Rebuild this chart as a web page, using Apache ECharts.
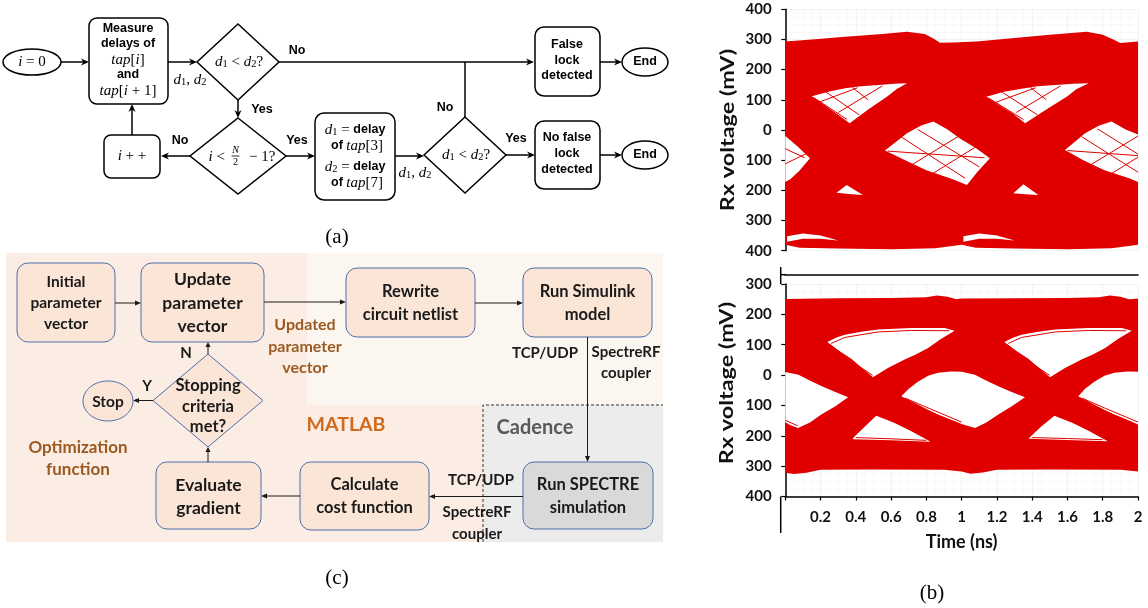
<!DOCTYPE html>
<html><head><meta charset="utf-8">
<script src="https://cdn.jsdelivr.net/npm/echarts@6/dist/echarts.min.js"></script>
<style>html,body{margin:0;padding:0;background:#fff}#c{width:1148px;height:608px}</style>
</head><body><div id="c"></div><script>
// ---------------- data: eye diagram (b), top panel ----------------
const timeTicks = [0.2,0.4,0.6,0.8,1,1.2,1.4,1.6,1.8,2];
const topEnvUpper = [[0,293],[0.15,300],[0.34,309],[0.55,318],[0.69,326],[0.79,318],[0.84,303],[0.877,289],[0.95,290],[1.085,293],[1.3,305],[1.5,316],[1.71,326],[1.8,316],[1.86,300],[1.9,288],[2.0,293]];
const topEnvLower = [[0,-380],[0.08,-390],[0.3,-393],[0.6,-395],[0.85,-392],[1.0,-380],[1.08,-390],[1.3,-393],[1.6,-395],[1.85,-392],[2.0,-380]];
const topUpperEye1 = [[0.15,112],[0.25,128],[0.34,138],[0.43,145],[0.53,149],[0.62,153],[0.69,155],[0.63,135],[0.58,112],[0.47,68],[0.365,22],[0.29,55],[0.22,84]];
const topUpperEye2 = [[1.14,110],[1.24,127],[1.34,137],[1.43,145],[1.53,149],[1.63,153],[1.72,155],[1.65,135],[1.60,112],[1.48,68],[1.36,22],[1.29,55],[1.21,84]];
const topMidEye0 = [[0,-20],[0.07,-55],[0.14,-94],[0.08,-135],[0.03,-162],[0,-172]];
const topMidEye1 = [[0.565,-68],[0.69,-11],[0.77,15],[0.84,28],[0.92,2],[0.99,-28],[1.08,-60],[1.16,-94],[1.09,-138],[1.03,-182],[0.95,-163],[0.8,-133],[0.68,-100]];
const topMidEye2 = [[1.586,-66],[1.70,-11],[1.78,15],[1.85,28],[1.93,2],[2.0,-15],[2.0,-172],[1.95,-160],[1.81,-133],[1.69,-100]];
const topLowEye1 = [[0.29,-208],[0.348,-182],[0.44,-215],[0.36,-212]];
const topLowEye2 = [[1.293,-210],[1.35,-180],[1.435,-215],[1.36,-213]];
const topFloorGap1 = [[0.01,-352],[0.1,-343],[0.2,-350],[0.3,-366],[0.2,-360],[0.1,-360],[0.01,-370]];
const topFloorGap2 = [[1.01,-352],[1.1,-343],[1.2,-350],[1.3,-366],[1.2,-360],[1.1,-360],[1.01,-370]];
const topStrands = [
  [[0.16,108],[0.35,35]], [[0.23,126],[0.42,50]], [[0.19,92],[0.41,140]], [[0.30,58],[0.55,146]], [[0.38,141],[0.47,100]],
  [[0.66,-24],[1.02,-160]], [[0.75,2],[1.10,-122]], [[0.71,-118],[0.99,-18]], [[0.82,-150],[1.08,-56]], [[0.58,-70],[1.13,-92]],
  [[0.0,-62],[0.11,-92]], [[0.0,-112],[0.12,-78]],
  [[1.15,107],[1.35,35]], [[1.23,125],[1.43,50]], [[1.19,91],[1.42,140]], [[1.31,58],[1.56,146]], [[1.39,141],[1.48,100]],
  [[1.68,-22],[2.0,-140]], [[1.77,4],[2.0,-80]], [[1.73,-116],[2.0,-20]], [[1.84,-148],[2.0,-90]], [[1.60,-68],[2.0,-85]]
];
// ---------------- data: eye diagram (b), bottom panel ----------------
const botEnvUpper = [[0,251],[0.3,253],[0.6,254],[0.8,256],[0.86,262],[0.92,258],[0.97,250],[1.0,252],[1.3,253],[1.6,254],[1.78,256],[1.84,262],[1.9,258],[1.95,250],[2.0,252]];
const botEnvLower = [[0,-322],[0.05,-326],[0.12,-322],[0.2,-312],[0.5,-311],[0.9,-312],[1.0,-318],[1.05,-325],[1.12,-321],[1.2,-312],[1.5,-311],[1.9,-312],[2.0,-318]];
const botUpperEye1 = [[0.238,109],[0.29,124],[0.337,133],[0.43,143],[0.526,150],[0.62,153],[0.715,155],[0.81,155],[0.904,155],[0.96,146],[0.88,118],[0.81,89],[0.74,68],[0.677,51],[0.582,23],[0.497,-7],[0.43,26],[0.374,54],[0.3,82]];
const botUpperEye2 = [[1.242,109],[1.294,124],[1.34,133],[1.434,143],[1.53,150],[1.624,153],[1.72,155],[1.814,155],[1.908,155],[1.964,146],[1.884,118],[1.814,89],[1.744,68],[1.68,51],[1.586,23],[1.501,-7],[1.434,26],[1.378,54],[1.304,82]];
const botMidEye0 = [[0,10],[0.075,1],[0.147,-20],[0.22,-40],[0.28,-55],[0.356,-73],[0.284,-103],[0.204,-130],[0.14,-156],[0.072,-174],[0.03,-165],[0,-155]];
const botMidEye1 = [[0.658,-70],[0.70,-45],[0.752,-22],[0.81,-2],[0.866,8],[0.94,12],[1.0,11],[1.075,1],[1.147,-20],[1.22,-40],[1.28,-55],[1.359,-73],[1.284,-103],[1.208,-130],[1.14,-156],[1.076,-174],[1.008,-163],[0.93,-145],[0.866,-130],[0.809,-114],[0.752,-97]];
const botMidEye2 = [[1.661,-70],[1.70,-45],[1.752,-22],[1.81,-2],[1.866,8],[1.94,12],[2.0,11],[2.0,-163],[1.93,-145],[1.866,-130],[1.809,-114],[1.752,-97]];
const botLowEye1 = [[0.384,-207],[0.45,-170],[0.516,-134],[0.62,-158],[0.715,-185],[0.824,-220],[0.6,-215],[0.384,-211]];
const botLowEye2 = [[1.382,-207],[1.45,-170],[1.526,-134],[1.63,-158],[1.725,-185],[1.828,-218],[1.6,-214],[1.382,-210]];
const botStrands = [
  [[0.26,104],[0.337,124],[0.526,142],[0.715,147],[0.93,146]], [[0.255,100],[0.375,46],[0.495,-1]],
  [[0.68,-76],[0.809,-108],[1.0,-155]], [[0.0,-149],[0.07,-167]], [[0.40,-206],[0.6,-210],[0.80,-215]],
  [[1.264,104],[1.34,124],[1.53,142],[1.72,147],[1.934,146]], [[1.259,100],[1.379,46],[1.499,-1]],
  [[1.683,-76],[1.809,-108],[2.0,-155]], [[1.40,-206],[1.6,-209],[1.80,-213]]
];

// ---------------- build chart ----------------
const RED = '#e00000';
function polyList(envU, envL, holes){
  const out = [{pts: envU.concat(envL.slice().reverse()), fill: RED}];
  holes.forEach(h => out.push({pts: h, fill: '#ffffff'}));
  return out;
}
const topPolys = polyList(topEnvUpper, topEnvLower, [topUpperEye1, topUpperEye2, topMidEye0, topMidEye1, topMidEye2, topLowEye1, topLowEye2, topFloorGap1, topFloorGap2]);
const botPolys = polyList(botEnvUpper, botEnvLower, [botUpperEye1, botUpperEye2, botMidEye0, botMidEye1, botMidEye2, botLowEye1, botLowEye2]);

function polySeries(idx, polys){
  return {type:'custom', coordinateSystem:'cartesian2d', xAxisIndex: idx, yAxisIndex: idx, silent:true, clip:true, z:2,
    data: polys.map(() => [0, 0]),
    renderItem: (params, api) => {
      const p = polys[params.dataIndex];
      return {type:'polygon', shape:{points: p.pts.map(q => api.coord(q))}, style:{fill: p.fill}};
    }};
}
function strandSeries(idx, strands){
  return strands.map(s => ({type:'line', xAxisIndex: idx, yAxisIndex: idx, data: s, showSymbol:false, symbol:'none', silent:true, z:3,
    lineStyle:{color: RED, width: 1}}));
}

// ---------------- graphic (flowcharts, captions) ----------------
const els = [];
const push = e => { e.silent = true; els.push(e); };
function rect(x,y,w,h,r,fill,stroke,lw,dash){ push({type:'rect', shape:{x,y,width:w,height:h,r}, style:{fill, stroke, lineWidth:lw, lineDash:dash}}); }
function ellipse(cx,cy,rx,ry,fill,stroke,lw){ push({type:'ellipse', shape:{cx,cy,rx,ry}, style:{fill,stroke,lineWidth:lw}}); }
function diamond(cx,cy,hw,hh,fill,stroke,lw){ push({type:'polygon', shape:{points:[[cx,cy-hh],[cx+hw,cy],[cx,cy+hh],[cx-hw,cy]]}, style:{fill,stroke,lineWidth:lw}}); }
function seg(pts,stroke,lw,dash){ push({type:'polyline', shape:{points:pts}, style:{stroke, lineWidth:lw, fill:null, lineDash:dash}}); }
function arrow(pts,stroke,lw,hl,hw,notch){
  const n = pts.length, x2 = pts[n-1][0], y2 = pts[n-1][1], x1 = pts[n-2][0], y1 = pts[n-2][1];
  const L = Math.hypot(x2-x1, y2-y1), ux = (x2-x1)/L, uy = (y2-y1)/L;
  const bx = x2-ux*hl, by = y2-uy*hl;
  seg(pts.slice(0,n-1).concat([[bx+ux*hl*0.5, by+uy*hl*0.5]]), stroke, lw);
  push({type:'polygon', shape:{points:[[x2,y2],[bx-uy*hw/2, by+ux*hw/2],[bx+ux*hl*notch, by+uy*hl*notch],[bx+uy*hw/2, by-ux*hw/2]]}, style:{fill:stroke}});
}
function text(x,y,t,opt){ push({type:'text', x, y, z:10, style:Object.assign({text:t, align:'center', verticalAlign:'middle', fill:'#000'}, opt)}); }

// ---- (a) ----
const RICH = {
  b:{fontFamily:'"Liberation Sans", Arial, sans-serif', fontWeight:'bold', fontSize:12.5},
  m:{fontFamily:'"Liberation Serif", serif', fontStyle:'italic', fontSize:15},
  r:{fontFamily:'"Liberation Serif", serif', fontSize:15},
  s:{fontFamily:'"Liberation Serif", serif', fontSize:10.5, verticalAlign:'bottom', lineHeight:10}
};
const FB = 'bold 12.5px "Liberation Sans", Arial, sans-serif';
const K = '#000', LW = 1.5;
function ta(x,y,t){ text(x,y,t,{rich:RICH, font:FB}); }
function tb(x,y,t){ text(x,y,t,{font:FB}); }

ellipse(32,62,29,13,'#fff',K,LW); ta(32,62,'{m|i}{r| = 0}');
arrow([[61,62],[89,62]],K,LW,8,7,0.3);
rect(89,18,79,86,8,'#fff',K,LW);
tb(128,29,'Measure'); tb(128,44,'delays of'); ta(128,60,'{m|tap}{r|[}{m|i}{r|]}'); tb(128,75,'and'); ta(128,91,'{m|tap}{r|[}{m|i}{r| + 1]}');
arrow([[168,62],[197,62]],K,LW,8,7,0.3);
ta(190,80,'{m|d}{s|1}{r|, }{m|d}{s|2}');
diamond(238,62,41,38,'#fff',K,LW); ta(239,62,'{m|d}{s|1}{r| < }{m|d}{s|2}{r|?}');
arrow([[279,62],[534,62]],K,LW,8,7,0.3); tb(297,51,'No');
arrow([[238,100],[238,118]],K,LW,8,7,0.3); tb(262,110,'Yes');
diamond(238,156,48,38,'#fff',K,LW);
text(225,157,'{m|i}{r| <}',{rich:RICH, align:'right'});
text(235.5,150,'{m|N}',{rich:{m:{fontFamily:'"Liberation Serif", serif', fontStyle:'italic', fontSize:10}}});
seg([[231.5,156],[239.5,156]],K,0.8);
text(235.5,162,'2',{font:'10px "Liberation Serif", serif'});
text(249,157,'{r|− 1?}',{rich:RICH, align:'left'});
arrow([[190,156],[161,156]],K,LW,8,7,0.3); tb(180,141,'No');
rect(104,135,56,43,7,'#fff',K,LW); ta(132,156,'{m|i}{r| + +}');
arrow([[132,135],[132,104]],K,LW,8,7,0.3);
arrow([[286,156],[315,156]],K,LW,8,7,0.3); tb(297,141,'Yes');
rect(315,113,80,87,9,'#fff',K,LW);
ta(355,130,'{m|d}{s|1}{r| = }{b|delay}'); ta(357,146,'{b|of }{m|tap}{r|[3]}');
ta(355,167,'{m|d}{s|2}{r| = }{b|delay}'); ta(357,183,'{b|of }{m|tap}{r|[7]}');
arrow([[395,156],[424,156]],K,LW,8,7,0.3); ta(415,173,'{m|d}{s|1}{r|, }{m|d}{s|2}');
diamond(465,155,41,38,'#fff',K,LW); ta(466,155,'{m|d}{s|1}{r| < }{m|d}{s|2}{r|?}');
seg([[465,117],[465,62]],K,LW); tb(445,108,'No');
arrow([[506,155],[535,155]],K,LW,8,7,0.3); tb(516,139,'Yes');
rect(535,27,65,69,9,'#fff',K,LW); tb(567,45,'False'); tb(567,61,'lock'); tb(567,76,'detected');
arrow([[600,62],[622,62]],K,LW,8,7,0.3); ellipse(645,62,23,14,'#fff',K,LW); tb(645,62,'End');
rect(535,121,65,68,9,'#fff',K,LW); tb(567,138,'No false'); tb(567,154,'lock'); tb(567,170,'detected');
arrow([[600,155],[622,155]],K,LW,8,7,0.3); ellipse(645,155,23,14,'#fff',K,LW); tb(645,155,'End');
text(337,237,'(a)',{font:'21px "Liberation Serif", serif'});

// ---- (c) ----
const PEACH_BG = '#fbede3', LIGHT_BG = '#fcf6f1', GRAY_BG = '#ececec';
const BOX = '#fbe5d6', BLUE = '#4f6fad', DK = '#1a1a1a';
rect(6,253,301,289,0,PEACH_BG,null,0);
rect(307,253,356,152,0,LIGHT_BG,null,0);
rect(307,405,176,137,0,PEACH_BG,null,0);
rect(483,405,180,137,0,GRAY_BG,null,0);
seg([[483,542],[483,405],[663,405]],'#333',1,[3,2]);
const FC = s => 'bold ' + s + 'px Lato, "Open Sans", sans-serif';
function tc(x,y,t,s,c){ text(x,y,t,{font:FC(s), fill:c||DK}); }
rect(17,263,98,79,11,BOX,BLUE,1); tc(66,282,'Initial',15.5); tc(66,303,'parameter',15.5); tc(66,323.5,'vector',15.5);
rect(141,263,123,79,11,BOX,BLUE,1); tc(202.5,279.5,'Update',17.5); tc(202.5,303,'parameter',17.5); tc(202.5,326,'vector',17.5);
arrow([[115,303],[141,303]],DK,1,6,5,0);
arrow([[264,302],[346,302]],DK,1,6,5,0);
rect(346,268,129,69,11,BOX,BLUE,1); tc(410.5,292,'Rewrite',16.5); tc(410.5,314.5,'circuit netlist',16.5);
arrow([[475,303],[523,303]],DK,1,6,5,0);
rect(523,268,129,69,11,BOX,BLUE,1); tc(587.5,292,'Run Simulink',16.5); tc(587.5,314.5,'model',16.5);
arrow([[587.5,337],[587.5,462]],DK,1,6,5,0);
tc(545,353,'TCP/UDP',15); tc(626,352,'SpectreRF',15); tc(626,373,'coupler',15);
rect(523,462,130,67,11,'#d9d9d9',BLUE,1); tc(588,485,'Run SPECTRE',16.5); tc(588,508,'simulation',16.5);
arrow([[523,496.5],[429,496.5]],DK,1,6,5,0);
tc(481,480,'TCP/UDP',15); tc(477,512,'SpectreRF',15); tc(477,534,'coupler',15);
rect(300,462,129,68,11,BOX,BLUE,1); tc(364.5,485,'Calculate',16.5); tc(364.5,508,'cost function',16.5);
arrow([[300,496],[261,496]],DK,1,6,5,0);
rect(156,462,105,67,11,BOX,BLUE,1); tc(208.5,485,'Evaluate',17.5); tc(208.5,508,'gradient',17.5);
arrow([[208,462],[208,447]],DK,1,5,5,0);
diamond(208,400.5,55,46.5,BOX,BLUE,1); tc(208,386,'Stopping',16.5); tc(208,407,'criteria',16.5); tc(208,427,'met?',16.5);
arrow([[208,354],[208,342]],DK,1,5,5,0); tc(186,353,'N',15);
arrow([[153,400.5],[133,400.5]],DK,1,6,5,0); tc(147,386.5,'Y',15);
ellipse(108,401,25,20,BOX,BLUE,1); tc(108,402,'Stop',15.5);
const BROWN = '#9a5a22';
tc(78,448,'Optimization',17,BROWN); tc(78,470,'function',17,BROWN);
tc(305,325,'Updated',16,BROWN); tc(305,346.5,'parameter',16,BROWN); tc(305,368,'vector',16,BROWN);
tc(346,425,'MATLAB',19.5,'#cf6a1f');
tc(535,427.5,'Cadence',20,'#595959');
text(337,578,'(c)',{font:'21px "Liberation Serif", serif'});

// ---- (b) decorations ----
seg([[780.7,496.5],[780.7,533]],'#000',1.5);
seg([[780.7,267],[780.7,284]],'#000',1.5);
seg([[780.7,274.7],[786,274.7]],'#000',1.5);
push({type:'text', x:728, y:130, rotation:Math.PI/2, scaleX:1.3, z:10, style:{text:'Rx voltage (mV)', align:'center', verticalAlign:'middle', font:'bold 18px Lato, sans-serif', fill:'#111'}});
push({type:'text', x:727, y:383, rotation:Math.PI/2, scaleX:1.3, z:10, style:{text:'Rx voltage (mV)', align:'center', verticalAlign:'middle', font:'bold 18px Lato, sans-serif', fill:'#111'}});
text(932,593,'(b)',{font:'21px "Liberation Serif", serif'});

const gridLine = {lineStyle:{color:'#ebebeb', width:0.6}};
const minorLine = {show:true, lineStyle:{color:'#f5f5f5', width:0.6}};
const labelFont = {fontFamily:'Lato, sans-serif', fontWeight:'bold', fontSize:15, color:'#111'};
const yAxisBase = (gi, min, max) => ({type:'value', gridIndex:gi, min, max, interval:100, offset:4.6,
  axisLine:{show:true, lineStyle:{color:'#000', width:1.5}}, axisTick:{show:true, length:4, lineStyle:{color:'#000', width:1.2}},
  axisLabel:Object.assign({margin:9, formatter: v => String(Math.abs(v))}, labelFont),
  splitLine:gridLine, minorTick:{show:false, splitNumber:4}, minorSplitLine:minorLine});

const option = {
  animation:false,
  backgroundColor:'#fff',
  grid:[{left:785.3, top:9.3, width:352.7, height:241.4}, {left:785.3, top:284, width:352.7, height:212.5}],
  xAxis:[
    {type:'value', gridIndex:0, min:0, max:2, interval:0.2, axisLine:{show:false}, axisTick:{show:false}, axisLabel:{show:false},
      splitLine:gridLine, minorTick:{show:false, splitNumber:4}, minorSplitLine:minorLine},
    {type:'value', gridIndex:1, position:'bottom', min:0, max:2, interval:0.2,
      axisLine:{show:true, onZero:false, lineStyle:{color:'#000', width:1.5}}, axisTick:{show:true, length:4, lineStyle:{color:'#000', width:1.2}},
      axisLabel:Object.assign({margin:13, formatter: v => (v === 0 ? '' : (timeTicks.indexOf(Math.round(v*10)/10) >= 0 ? String(Math.round(v*10)/10) : ''))}, labelFont),
      splitLine:gridLine, minorTick:{show:false, splitNumber:4}, minorSplitLine:minorLine,
      name:'Time (ns)', nameLocation:'middle', nameGap:37, nameTextStyle:{fontFamily:'Lato, sans-serif', fontWeight:'bold', fontSize:18, color:'#111'}},
    {type:'value', gridIndex:1, position:'top', offset:9.3, min:0, max:2,
      axisLine:{show:true, onZero:false, lineStyle:{color:'#000', width:1.5}}, axisTick:{show:false}, axisLabel:{show:false}, splitLine:{show:false}}
  ],
  yAxis:[ yAxisBase(0,-400,400), yAxisBase(1,-400,300) ],
  series:[ polySeries(0, topPolys), polySeries(1, botPolys) ]
    .concat(strandSeries(0, topStrands)).concat(strandSeries(1, botStrands)),
  graphic:{elements: els}
};
const chart = echarts.init(document.getElementById('c'), null, {renderer:'canvas'});
chart.setOption(option);
</script></body></html>
